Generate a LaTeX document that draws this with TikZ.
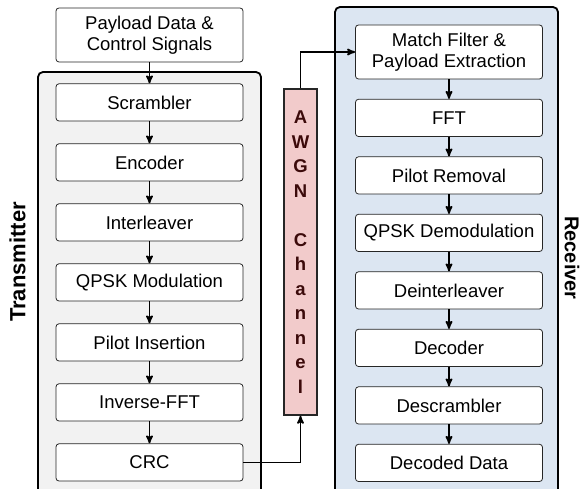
\documentclass[tikz,border=0pt]{standalone}
\usepackage{fontspec}
\setmainfont{Liberation Sans}
\usetikzlibrary{positioning,arrows}
\definecolor{txgray}{HTML}{F2F2F2}
\definecolor{rxblue}{HTML}{DCE6F2}
\definecolor{awgnpink}{HTML}{F2CBCB}
\definecolor{awgntext}{HTML}{3C0A0A}
\tikzset{
>=stealth',
  block/.style={
    rectangle,
    rounded corners=3pt,
    fill=white,
    draw=black!85, thick,
    minimum width=187pt,
    minimum height=37.2pt,
    inner sep=2pt,
    align=center,
    font=\fontsize{18.5}{21.5}\selectfont},
  tallblock/.style={block, minimum height=54pt},
  group/.style={draw=black, line width=1.8pt, rounded corners=5pt},
  line/.style={draw, line width=1.7pt, ->},
  side/.style={font=\bfseries\fontsize{22}{26}\selectfont},
  channel/.style={
    rectangle,
    fill=awgnpink,
    draw=black!85, line width=1.5pt,
    minimum width=33pt,
    minimum height=326pt,
    inner sep=0pt,
    align=center,
    text=awgntext,
    font=\bfseries\fontsize{18.5}{24.5}\selectfont},
}

\begin{document}
\begin{tikzpicture}[x=1pt,y=-1pt]
    \useasboundingbox (0,0) rectangle (582,489);
    \clip (0,0) rectangle (582,489);

    % groups
    \draw[group, fill=txgray] (38,72) rectangle (261,520);
    \draw[group, fill=rxblue] (335,7) rectangle (558,520);
    \node[side, rotate=90]  (txlabel) at (17.5,262) {Transmitter};
    \node[side, rotate=-90, font=\bfseries\fontsize{20}{24}\selectfont] (rxlabel) at (572,258) {Receiver};

    % transmitter chain
    \node[tallblock] (payload) at (149.5,35) {Payload Data \&\\Control Signals};
    \node[block, below=21pt of payload] (scr)  {Scrambler};
    \node[block, below=22pt of scr]     (enc)  {Encoder};
    \node[block, below=22pt of enc]     (intl) {Interleaver};
    \node[block, below=22pt of intl]    (mod)  {QPSK Modulation};
    \node[block, below=22pt of mod]     (pins) {Pilot Insertion};
    \node[block, below=22pt of pins]    (ifft) {Inverse-FFT};
    \node[block, below=22pt of ifft]    (crc)  {CRC};

    % channel
    \node[channel] (awgn) at (300.5,252) {A\\W\\G\\N\\[24.5pt]C\\h\\a\\n\\n\\e\\l};

    % receiver chain
    \node[tallblock] (match) at (449,52) {Match Filter \&\\Payload Extraction};
    \node[block, below=19.5pt of match] (fft)    {FFT};
    \node[block, below=19.5pt of fft]   (prem)   {Pilot Removal};
    \node[block, below=19.5pt of prem]  (demod)  {QPSK Demodulation};
    \node[block, below=19.5pt of demod] (deintl) {Deinterleaver};
    \node[block, below=19.5pt of deintl] (dec)   {Decoder};
    \node[block, below=19.5pt of dec]   (dscr)   {Descrambler};
    \node[block, below=19.5pt of dscr]  (out)    {Decoded Data};

    % connections
    \foreach \a/\b in {payload/scr, scr/enc, enc/intl, intl/mod, mod/pins, pins/ifft, ifft/crc,
                       match/fft, fft/prem, prem/demod, demod/deintl, deintl/dec, dec/dscr, dscr/out}
        \draw[line] (\a) -- (\b);
    \draw[line] (crc.east) -| (awgn.south);
    \draw[line] (awgn.north) |- (match.west);
\end{tikzpicture}
\end{document}
